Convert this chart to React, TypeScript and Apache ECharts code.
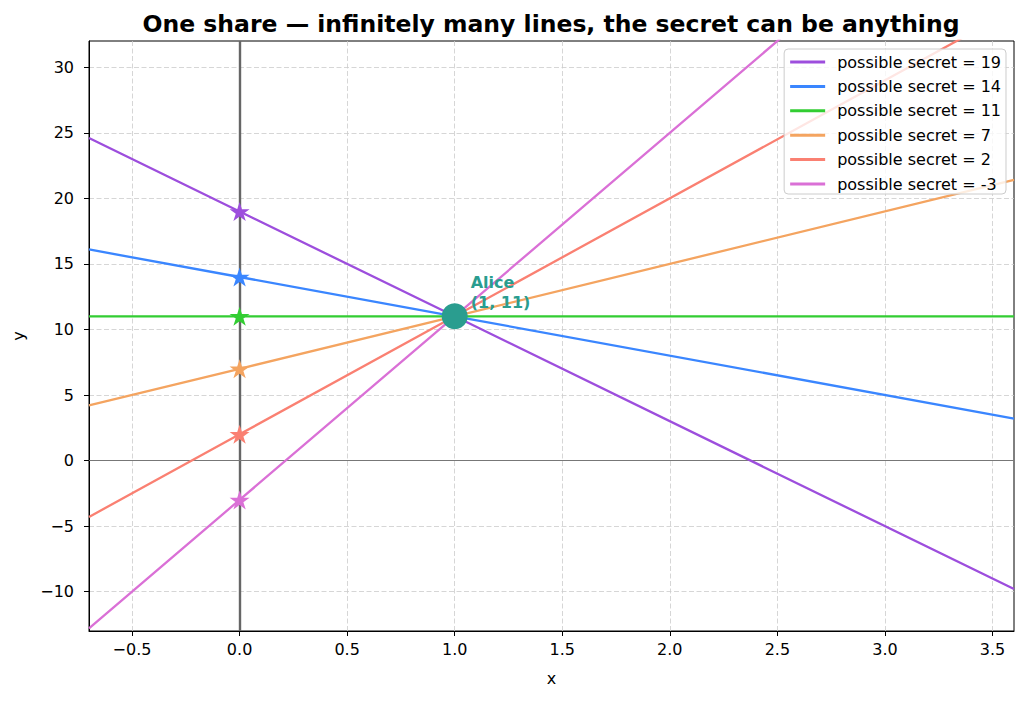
import { useEffect, useRef } from "react";
import * as echarts from "echarts";

// x positions where each candidate line is sampled (axis edges, the secret at x=0, Alice's share at x=1)
const xs = [-0.7, 0, 1, 3.6];
const secrets = [19, 14, 11, 7, 2, -3];
const lineYs = [
  [24.6, 19, 11, -9.8],
  [16.1, 14, 11, 3.2],
  [11, 11, 11, 11],
  [4.2, 7, 11, 21.4],
  [-4.3, 2, 11, 34.4],
  [-12.8, -3, 11, 47.4],
];
const lineColors = ["#9d4edd", "#3a86ff", "#32cd32", "#f4a460", "#fa8072", "#da70d6"];
const share: [number, number] = [1, 11];
const xTicks = [-0.5, 0, 0.5, 1, 1.5, 2, 2.5, 3, 3.5];
const yTicks = [-10, -5, 0, 5, 10, 15, 20, 25, 30];

const FONT = "DejaVu Sans";
const STAR =
  "path://M0,-1L-0.2245,-0.309L-0.951,-0.309L-0.363,0.118L-0.588,0.809L0,0.382L0.588,0.809L0.363,0.118L0.951,-0.309L0.2245,-0.309Z";

const minus = (s: string) => s.replace("-", "\u2212");

export default function App() {
  const ref = useRef<HTMLDivElement>(null);

  useEffect(() => {
    if (!ref.current) return;
    const chart = echarts.init(ref.current, undefined, { renderer: "svg" });
    const names = secrets.map((s) => `possible secret = ${s}`);

    const lines = secrets.map((s, i) => ({
      name: names[i],
      type: "line" as const,
      data: xs.map((x, j) => [x, lineYs[i][j]]),
      showSymbol: false,
      symbol: "none",
      lineStyle: { width: 2.3, color: lineColors[i] },
      itemStyle: { color: lineColors[i] },
      z: 3,
    }));
    const stars = secrets.map((s, i) => ({
      name: names[i] + " star",
      type: "scatter" as const,
      data: [[0, s]],
      symbol: STAR,
      symbolKeepAspect: true,
      symbolSize: 20,
      itemStyle: { color: lineColors[i], opacity: 1 },
      z: 4,
    }));

    chart.setOption({
      animation: false,
      backgroundColor: "#ffffff",
      textStyle: { fontFamily: FONT },
      title: {
        text: "One share \u2014 infinitely many lines, the secret can be anything",
        left: 551,
        textAlign: "center",
        top: 0,
        padding: 0,
        textStyle: { fontFamily: FONT, fontSize: 23.5, fontWeight: "bold", color: "#000", lineHeight: 47 },
      },
      grid: { left: 89, right: 12, top: 41, bottom: 70, show: true, borderColor: "#000", borderWidth: 1, backgroundColor: "transparent" },
      legend: {
        orient: "vertical",
        right: 20,
        top: 49,
        data: names.map((n) => ({ name: n, icon: "rect" })),
        itemWidth: 35,
        itemHeight: 3,
        itemGap: 8.4,
        padding: [5, 5, 2, 6],
        borderColor: "#cccccc",
        borderWidth: 1,
        borderRadius: 4,
        backgroundColor: "rgba(255,255,255,0.8)",
        textStyle: { fontFamily: FONT, fontSize: 16, color: "#000", lineHeight: 16, padding: [0, 0, 0, 7] },
      },
      xAxis: {
        type: "value",
        min: -0.7,
        max: 3.6,
        minInterval: 0.5,
        maxInterval: 0.5,
        name: "x",
        nameLocation: "middle",
        nameGap: 39,
        nameTextStyle: { fontFamily: FONT, fontSize: 16, color: "#000" },
        axisLine: { onZero: false, lineStyle: { color: "#000", width: 1 } },
        axisTick: { show: true, length: 5, customValues: xTicks, lineStyle: { color: "#000" } },
        axisLabel: {
          customValues: xTicks,
          margin: 10,
          fontFamily: FONT,
          fontSize: 16,
          color: "#000",
          formatter: (v: number) => minus(v.toFixed(1)),
        },
        splitLine: { show: true, lineStyle: { color: "#cccccc", width: 0.8, type: [5, 2.5] } },
      },
      yAxis: {
        type: "value",
        min: -13,
        max: 32,
        minInterval: 5,
        maxInterval: 5,
        name: "y",
        nameLocation: "middle",
        nameGap: 63,
        nameTextStyle: { fontFamily: FONT, fontSize: 16, color: "#000" },
        axisLine: { show: true, onZero: false, lineStyle: { color: "#000", width: 1 } },
        axisTick: { show: true, length: 5, customValues: yTicks, lineStyle: { color: "#000" } },
        axisLabel: {
          customValues: yTicks,
          margin: 15,
          fontFamily: FONT,
          fontSize: 16,
          color: "#000",
          formatter: (v: number) => minus(String(v)),
        },
        splitLine: { show: true, lineStyle: { color: "#cccccc", width: 0.8, type: [5, 2.5] } },
      },
      series: [
        {
          name: "axes",
          type: "line",
          data: [],
          z: 2,
          markLine: {
            silent: true,
            z: 2,
            symbol: "none",
            label: { show: false },
            data: [
              { xAxis: 0, lineStyle: { color: "#666666", width: 2.4, type: "solid" } },
              { yAxis: 0, lineStyle: { color: "#777777", width: 1.2, type: "solid" } },
            ],
          },
        },
        ...lines,
        ...stars,
        {
          name: "Alice",
          type: "scatter",
          data: [share],
          symbolSize: 26,
          itemStyle: { color: "#2a9d8f", opacity: 1 },
          z: 5,
          label: {
            show: true,
            formatter: "Alice\n(1, 11)",
            position: [29, -31],
            align: "left",
            verticalAlign: "top",
            fontFamily: FONT,
            fontSize: 16,
            fontWeight: "bold",
            lineHeight: 20,
            color: "#2a9d8f",
          },
        },
      ],
    });
    return () => chart.dispose();
  }, []);

  return <div ref={ref} style={{ position: "fixed", left: 0, top: 0, width: 1026, height: 701 }} />;
}
